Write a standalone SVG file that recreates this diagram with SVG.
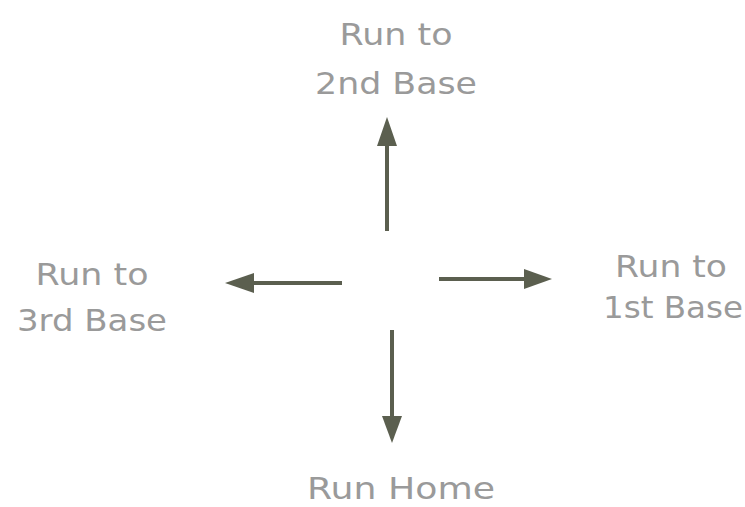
<svg xmlns="http://www.w3.org/2000/svg" width="745" height="507" viewBox="0 0 745 507">
<style>
.lbl{font-family:"DejaVu Sans","Liberation Sans",sans-serif;font-size:31px;fill:#9a9a9a;text-anchor:middle}
.c{stroke:#5b5f4f;stroke-width:4;fill:none}
.h{fill:#5b5f4f}
</style>
<rect width="745" height="507" fill="#ffffff"/>
<g id="n2">
<text class="lbl" x="396" y="45" textLength="113" lengthAdjust="spacingAndGlyphs">Run to</text>
<text class="lbl" x="396" y="94" textLength="162" lengthAdjust="spacingAndGlyphs">2nd Base</text>
</g>
<g id="n3">
<text class="lbl" x="92" y="285" textLength="113" lengthAdjust="spacingAndGlyphs">Run to</text>
<text class="lbl" x="92" y="331" textLength="150" lengthAdjust="spacingAndGlyphs">3rd Base</text>
</g>
<g id="n1">
<text class="lbl" x="671" y="277" textLength="112" lengthAdjust="spacingAndGlyphs">Run to</text>
<text class="lbl" x="673" y="318" textLength="140" lengthAdjust="spacingAndGlyphs">1st Base</text>
</g>
<g id="nh">
<text class="lbl" x="401" y="499" font-size="29" textLength="188" lengthAdjust="spacingAndGlyphs">Run Home</text>
</g>
<g id="connectors">
<line class="c" x1="387" y1="231" x2="387" y2="140"/>
<polygon class="h" points="387,117 397,146 377,146"/>
<line class="c" x1="342" y1="283" x2="248" y2="283"/>
<polygon class="h" points="225,283 254,273 254,293"/>
<line class="c" x1="439" y1="279" x2="530" y2="279"/>
<polygon class="h" points="552,279 524,269 524,289"/>
<line class="c" x1="392" y1="330" x2="392" y2="422"/>
<polygon class="h" points="392,443 382,416 402,416"/>
</g>
</svg>
